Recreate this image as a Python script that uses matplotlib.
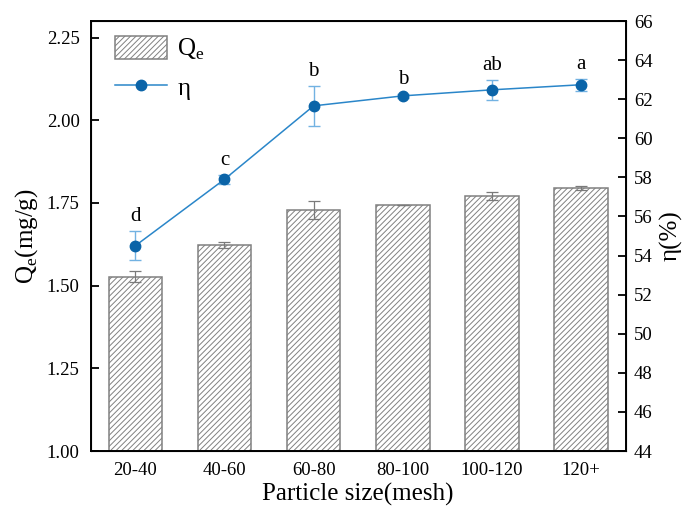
import numpy as np
from matplotlib import pyplot as plt
from matplotlib.lines import Line2D

plt.rcParams["font.family"] = ["Liberation Serif", "DejaVu Serif"]
plt.rcParams["hatch.color"] = "#8c8c8c"
plt.rcParams["hatch.linewidth"] = 0.7

sizes = ["20-40", "40-60", "60-80", "80-100", "100-120", "120+"]
qe = [1.527, 1.622, 1.728, 1.743, 1.771, 1.795]
qe_err = [0.016, 0.009, 0.027, 0.0, 0.013, 0.007]
eta = [54.5, 57.9, 61.66, 62.17, 62.48, 62.74]
eta_err = [0.75, 0.22, 1.03, 0.12, 0.5, 0.3]
letters = ["d", "c", "b", "b", "ab", "a"]

x = np.arange(len(sizes))
line_color = "#2a86c9"
marker_color = "#0b64a8"

fig = plt.figure(figsize=(6.85, 5.09), dpi=100)
ax = fig.add_axes([0.1324, 0.1139, 0.781, 0.8448])

bars = ax.bar(x, qe, width=0.6, color="white", edgecolor="#808080", linewidth=1.1,
              hatch="//////", zorder=2)
ax.errorbar(x, qe, yerr=qe_err, fmt="none", ecolor="#7a7a7a", elinewidth=0.9,
            capsize=4, capthick=0.9, zorder=3)

yt = [1.00, 1.25, 1.50, 1.75, 2.00, 2.25]
ax.set_ylim(1.0, 2.30)
ax.set_yticks(yt)
ax.set_yticklabels([f"{v:.2f}" for v in yt])
ax.set_xlim(-0.5, 5.5)
ax.set_xticks(x)
ax.set_xticklabels(sizes)
ax.set_xlabel("Particle size(mesh)", fontsize=18, labelpad=3)
ax.set_ylabel("Q$_\\mathregular{e}$(mg/g)", fontsize=18, labelpad=5)
ax.tick_params(direction="in", labelsize=13.5, length=6, width=1.3, pad=8, top=False, right=False)
for s in ax.spines.values():
    s.set_linewidth(1.4)

ax2 = ax.twinx()
ax2.errorbar(x, eta, yerr=eta_err, color=line_color, ecolor="#72b2e2", elinewidth=1.0,
             capsize=4, capthick=1.0, lw=1.1, marker="o", markersize=7.5,
             markerfacecolor=marker_color, markeredgecolor=marker_color, zorder=4)
for xi, yi, ei, lab in zip(x, eta, eta_err, letters):
    ax2.text(xi, yi + ei + 0.25, lab, ha="center", va="bottom", fontsize=15)
ax2.set_ylim(44, 66)
ax2.set_yticks(np.arange(44, 67, 2))
ax2.set_ylabel("η(%)", fontsize=18, labelpad=5)
ax2.tick_params(direction="in", labelsize=13.5, length=6, width=1.3, pad=6)

eta_handle = Line2D([], [], color=line_color, lw=1.1, marker="o", markersize=7.5,
                    markerfacecolor=marker_color, markeredgecolor=marker_color)
ax.legend([bars, eta_handle], ["Q$_\\mathregular{e}$", "η"], loc="upper left",
          bbox_to_anchor=(0.045, 0.965), frameon=False,
          fontsize=18, handlelength=2.1, handleheight=1.05, borderpad=0, borderaxespad=0,
          labelspacing=0.5, handletextpad=0.4)
ax.set_zorder(ax2.get_zorder() + 1)
ax.patch.set_visible(False)

fig.savefig("out.png", dpi=100)
